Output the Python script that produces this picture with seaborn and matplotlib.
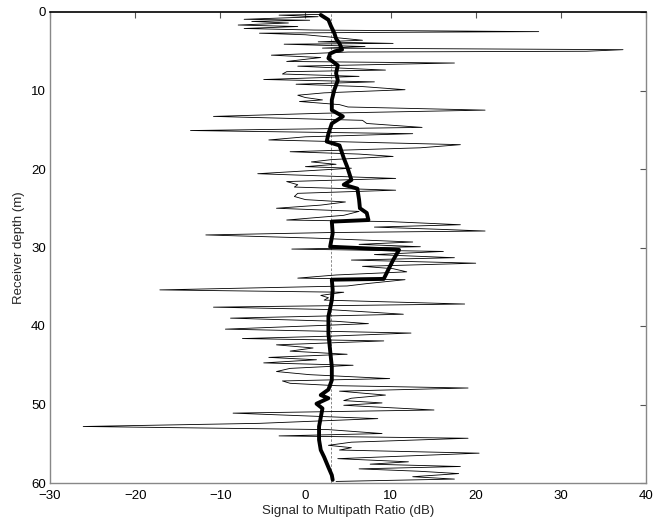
import matplotlib
matplotlib.use("Agg")
import matplotlib.pyplot as plt
import seaborn as sns
import pandas as pd

# thin (raw) curve: depth (m) and SMR (dB)
raw_depth = [0.3, 0.4, 0.6, 0.93, 1.05, 1.2, 1.4, 1.66, 1.85, 2.1, 2.3, 2.5, 2.6, 2.7, 2.9,
             3.2, 3.6, 3.8, 4.0, 4.1, 4.4, 4.6, 4.8, 5.0, 5.1, 5.5, 5.8, 6.3, 6.5, 6.9,
             7.4, 7.6, 7.9, 8.2, 8.6, 8.9, 9.2, 9.5, 9.9, 10.3, 10.6, 10.9, 11.2, 11.4, 11.8,
             12.1, 12.5, 12.9, 13.3, 13.8, 14.2, 14.7, 15.1, 15.5, 15.9, 16.3, 16.9, 17.3, 17.8, 18.1,
             18.4, 18.8, 19.1, 19.4, 19.7, 19.9, 20.6, 21.2, 21.6, 22.0, 22.3, 22.7, 23.1, 23.5, 23.9,
             24.2, 24.6, 25.0, 25.4, 25.9, 26.5, 26.7, 27.1, 27.4, 27.7, 27.9, 28.1, 28.4, 28.8, 29.3,
             29.6, 29.9, 30.2, 30.5, 30.9, 31.3, 31.6, 32.0, 32.4, 32.7, 33.1, 33.5, 33.9, 34.1, 34.6,
             34.9, 35.4, 35.7, 36.1, 36.4, 36.7, 37.2, 37.6, 37.9, 38.5, 39.0, 39.4, 39.7, 40.4, 40.9,
             41.3, 41.6, 41.9, 42.4, 42.8, 43.2, 43.6, 44.0, 44.3, 44.7, 45.0, 45.4, 45.8, 46.2, 46.7,
             47.0, 47.3, 47.6, 47.9, 48.3, 48.8, 49.2, 49.5, 49.8, 50.1, 50.7, 51.1, 51.8, 52.4, 52.8,
             53.2, 53.7, 54.0, 54.3, 54.8, 55.2, 55.5, 55.8, 56.2, 56.9, 57.3, 57.6, 57.9, 58.2, 58.5,
             58.8, 59.2, 59.5, 59.8]
raw_smr = [2.0, -3.1, 1.5, -7.2, 0.5, -6.3, -2.0, -7.9, -0.9, -7.2, 1.0, 27.4, 8.0, -5.4, 0.0,
           3.0, 6.7, 1.5, 10.3, -2.5, 7.0, 2.0, 37.3, 33.0, 5.0, -4.0, 1.8, -2.2, 17.5, -0.9,
           9.4, -2.2, -2.7, 6.3, -4.9, 8.1, -1.1, 6.7, 11.7, 2.2, -0.9, 0.0, 2.0, -0.7, 4.0,
           5.0, 21.1, 2.0, -10.8, 6.7, 7.2, 13.7, -13.5, 12.6, 0.0, -4.3, 18.2, 13.5, -1.8, 6.3,
           10.3, 3.1, 0.7, 3.6, 0.0, 5.4, -5.6, 10.6, -2.2, -0.9, -1.3, 10.6, -0.9, -1.3, 0.0,
           4.7, 1.8, -3.4, 6.3, 4.5, -2.2, 9.9, 18.2, 8.1, 16.2, 21.1, 2.7, -11.7, 0.9, 12.6,
           6.3, 13.5, -1.6, 16.2, 8.1, 17.5, 5.4, 20.0, 6.7, 10.3, 11.9, 3.6, -0.9, 11.7, 7.2,
           4.9, -17.1, 4.5, 1.8, 2.7, 2.2, 18.7, -10.8, 2.7, 11.5, -8.8, 3.6, 7.4, -9.4, 12.4,
           2.7, -7.4, 9.2, -3.4, 0.9, -1.8, 4.9, -4.3, 1.3, -4.9, 5.6, -1.8, -3.4, 0.5, 9.9,
           -2.7, -1.8, 3.6, 19.1, 4.0, 9.4, 5.4, 4.5, 9.0, 4.5, 15.1, -8.5, 8.5, -5.4, -26.1,
           2.7, 9.0, -3.1, 19.1, 5.4, 2.7, 5.4, 4.0, 20.4, 3.8, 12.1, 7.6, 18.2, 6.3, 13.3,
           18.0, 12.6, 17.5, 3.6]

# thick (smoothed) curve
avg_depth = [0.38, 1.0, 1.8, 2.7, 3.4, 4.0, 4.8, 5.0, 5.3, 5.9, 6.8, 7.8, 8.7, 9.9, 11.2,
             12.5, 13.3, 14.2, 15.5, 16.5, 17.0, 18.6, 19.7, 21.4, 22.0, 22.5, 23.9, 25.0, 25.6, 26.5,
             26.7, 28.2, 29.9, 30.3, 31.6, 32.9, 34.0, 34.1, 35.4, 36.7, 38.8, 41.0, 43.1, 45.2, 46.9,
             48.1, 48.8, 49.2, 49.9, 50.5, 52.8, 54.5, 55.8, 56.7, 58.0, 59.0, 59.6]
avg_smr = [1.8, 2.7, 3.0, 3.4, 3.6, 4.0, 4.3, 3.5, 2.9, 2.7, 3.8, 3.6, 3.8, 3.4, 3.1,
           3.1, 4.4, 3.1, 2.7, 2.5, 4.0, 4.5, 4.9, 5.4, 4.5, 6.1, 6.3, 6.4, 7.2, 7.4,
           3.1, 3.2, 2.9, 11.0, 10.3, 9.7, 9.2, 3.1, 3.2, 3.1, 2.7, 2.7, 2.9, 3.1, 3.1,
           2.7, 1.8, 2.7, 1.3, 2.0, 1.6, 1.6, 1.8, 2.2, 2.7, 3.1, 3.2]

overall_mean = 3.0
xticks = [-30, -20, -10, 0, 10, 20, 30, 40]
yticks = [0, 10, 20, 30, 40, 50, 60]

sns.set_theme(style="white")
plt.rcParams['font.family'] = ['Liberation Sans', 'DejaVu Sans']

fig = plt.figure(figsize=(6.61, 5.21), dpi=100)
ax = fig.add_axes([50/661, 1-483/521, 596/661, 471/521])

raw = pd.DataFrame({"depth": raw_depth, "smr": raw_smr})
avg = pd.DataFrame({"depth": avg_depth, "smr": avg_smr})

ax.axvline(overall_mean, color="#777777", lw=0.6, ls=(0, (3, 2)), zorder=1)
sns.lineplot(data=raw, x="smr", y="depth", sort=False, estimator=None, orient="y",
             color="black", lw=0.6, ax=ax, zorder=2)
sns.lineplot(data=avg, x="smr", y="depth", sort=False, estimator=None, orient="y",
             color="black", lw=2.8, ax=ax, zorder=3)

ax.set_xlim(-30, 40)
ax.set_ylim(60, 0)
ax.set_xticks(xticks)
ax.set_yticks(yticks)
ax.set_xticklabels([str(t).replace('-', '\u2212') for t in xticks])
ax.set_xlabel("Signal to Multipath Ratio (dB)", fontsize=9.5, labelpad=2)
ax.set_ylabel("Receiver depth (m)", fontsize=9.5, labelpad=4)
ax.tick_params(direction="in", top=True, right=True, length=4, width=0.8,
               color="#555555", labelsize=9.5, labelcolor="black")
ax.tick_params(axis="x", pad=5)
ax.tick_params(axis="y", pad=3)
for side in ["left", "bottom", "right"]:
    ax.spines[side].set_color("#888888")
    ax.spines[side].set_linewidth(1.0)
ax.spines["top"].set_color("black")
ax.spines["top"].set_linewidth(1.2)

fig.savefig("out.png", dpi=100)
